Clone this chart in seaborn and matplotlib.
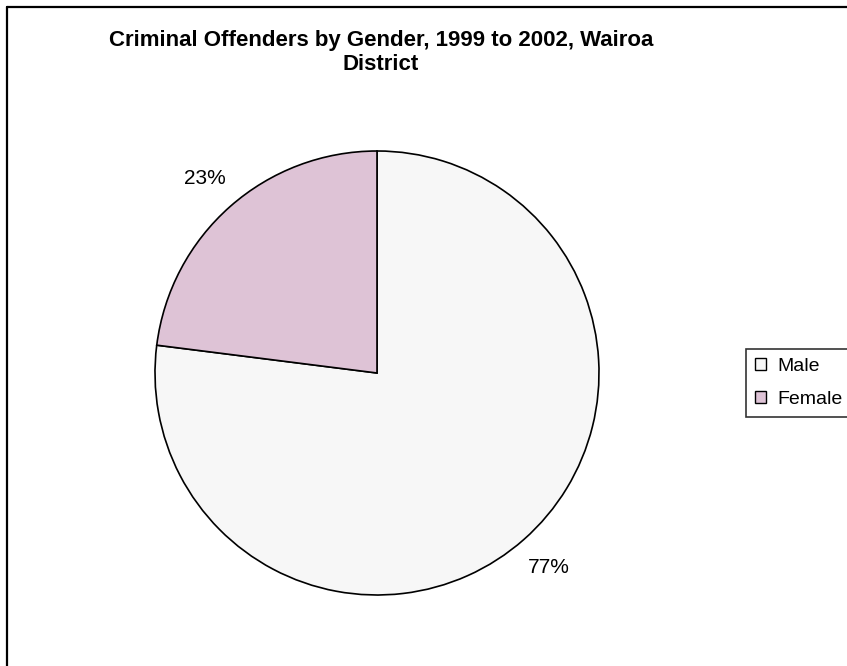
import matplotlib
matplotlib.use("Agg")
import matplotlib.pyplot as plt
import seaborn as sns
from matplotlib.patches import Patch
from matplotlib.lines import Line2D

sns.set_theme(style="white")
plt.rcParams['font.family'] = ['Liberation Sans', 'DejaVu Sans']
plt.rcParams['text.color'] = 'black'

categories = ["Male", "Female"]
values = [77, 23]
colors = ["#F7F7F7", "#DEC3D6"]
title = "Criminal Offenders by Gender, 1999 to 2002, Wairoa\nDistrict"

W, H = 847, 666
fig = plt.figure(figsize=(W / 100, H / 100), dpi=100)
fig.patch.set_facecolor("white")

cx, cy, r = 377, 373, 222
ax = fig.add_axes([(cx - r) / W, (H - cy - r) / H, 2 * r / W, 2 * r / H])
wedges, texts, autotexts = ax.pie(
    values, colors=colors, startangle=90, counterclock=False,
    autopct=lambda p: f"{p:.0f}%", pctdistance=1.17, radius=1,
    wedgeprops=dict(edgecolor="black", linewidth=1.2),
    textprops=dict(fontsize=15, color="black"))
ax.set_xlim(-1, 1)
ax.set_ylim(-1, 1)
ax.set_aspect("equal")
ax.axis("off")

fig.text(381 / W, 1 - 30 / H, title, ha="center", va="top", color="black",
         fontsize=16, fontweight="bold", linespacing=1.2)

# frame (top and left edges visible)
fig.add_artist(Line2D([7 / W, 1.0], [1 - 7 / H, 1 - 7 / H], transform=fig.transFigure,
                      color="black", linewidth=1.6))
fig.add_artist(Line2D([7 / W, 7 / W], [0, 1 - 7 / H], transform=fig.transFigure,
                      color="black", linewidth=1.6))

handles = [Patch(facecolor=c, edgecolor="black", linewidth=1.0) for c in colors]
leg = fig.legend(handles, categories, loc="upper left",
                 bbox_to_anchor=(746 / W, 1 - 349 / H), bbox_transform=fig.transFigure,
                 fontsize=14, frameon=True, fancybox=False, handlelength=0.57,
                 handleheight=0.57, handletextpad=0.6, borderpad=0.45,
                 labelspacing=0.85, borderaxespad=0)
leg.get_frame().set_edgecolor("black")
leg.get_frame().set_linewidth(1.2)
for t in leg.get_texts():
    t.set_color("black")

fig.savefig("out.png", dpi=100)
